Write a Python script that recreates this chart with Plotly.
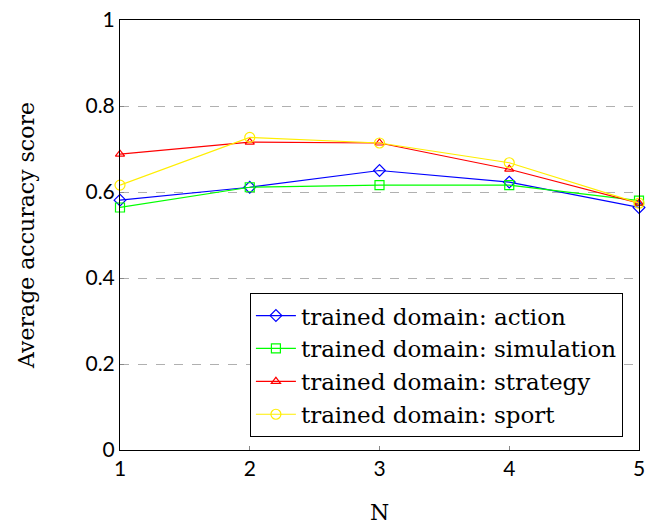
import plotly.graph_objects as go

N = [1, 2, 3, 4, 5]
action = [0.581, 0.611, 0.650, 0.623, 0.564]
simulation = [0.564, 0.611, 0.616, 0.616, 0.580]
strategy = [0.688, 0.716, 0.714, 0.653, 0.574]
sport = [0.616, 0.727, 0.714, 0.668, 0.574]

series = [
    ("trained domain: action", action, "blue", "diamond-open", 9),
    ("trained domain: simulation", simulation, "#00ff00", "square-open", 9),
    ("trained domain: strategy", strategy, "red", "triangle-up-open", 8),
    ("trained domain: sport", sport, "#ffee00", "circle-open", 10),
]

fig = go.Figure()
for name, vals, color, sym, sz in series:
    fig.add_trace(go.Scatter(
        x=N, y=vals, mode="lines+markers", name=name,
        line=dict(color=color, width=1.2),
        marker=dict(symbol=sym, size=sz, color=color, line=dict(width=1.2, color=color)),
        cliponaxis=False,
    ))

serif = "DejaVu Serif, serif"
sans = "Lato, sans-serif"
fig.update_layout(
    width=646, height=525,
    margin=dict(l=120, r=7, t=20, b=75),
    plot_bgcolor="white", paper_bgcolor="white",
    font=dict(family=serif, color="black", size=20),
    xaxis=dict(
        range=[1, 5], tickvals=N, ticktext=[str(v) for v in N],
        showgrid=False, zeroline=False,
        showline=True, linecolor="black", linewidth=1, mirror=True,
        ticks="inside", ticklen=4, tickcolor="#888",
        tickfont=dict(family=sans, size=21),
        ticklabeloverflow="allow",
        title=dict(text="N", font=dict(family=serif, size=22), standoff=34),
        automargin=False,
    ),
    yaxis=dict(
        range=[0, 1], tickvals=[0, 0.2, 0.4, 0.6, 0.8, 1],
        ticktext=["0", "0.2", "0.4", "0.6", "0.8", "1"],
        showgrid=True, gridcolor="#b0b0b0", griddash="dash", gridwidth=1,
        zeroline=False,
        showline=True, linecolor="black", linewidth=1, mirror=True,
        ticks="inside", ticklen=4, tickcolor="#888",
        tickfont=dict(family=sans, size=21),
        ticklabeloverflow="allow",
        title=dict(text="Average accuracy score", font=dict(family=serif, size=22), standoff=44),
        automargin=False,
    ),
    legend=dict(
        x=0.969, y=0.03, xanchor="right", yanchor="bottom",
        bgcolor="white", bordercolor="black", borderwidth=1,
        font=dict(family=serif, size=23),
        itemwidth=40, tracegroupgap=0,
    ),
    showlegend=True,
)

fig.write_html(
    "out.html",
    config={"displayModeBar": False},
    post_script="document.body.style.margin='0';document.body.style.overflow='hidden';",
)
